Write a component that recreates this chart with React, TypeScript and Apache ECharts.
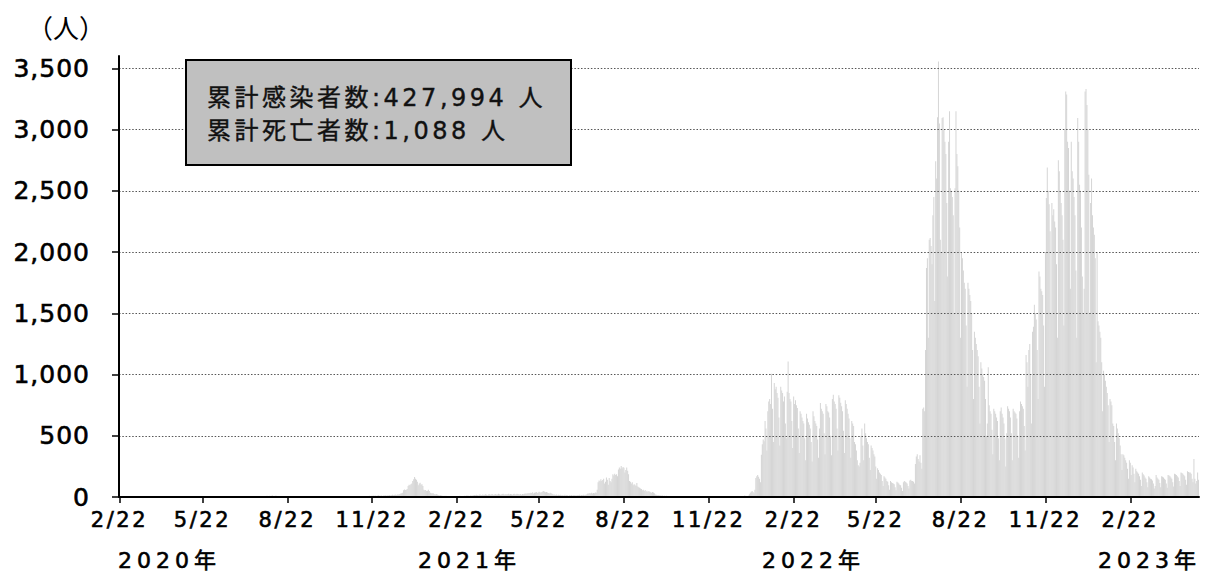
import React, { useEffect, useRef } from "react";
import * as echarts from "echarts";

// daily new cases, one array per month, first day = 2020-02-22
const feb2020 = [0, 0, 0, 0, 0, 0, 0, 0];
const mar2020 = [0, 0, 1, 0, 0, 0, 0, 1, 0, 0, 0, 1, 0, 0, 0, 0, 0, 0, 0, 1, 0, 0, 0, 0, 1, 2, 0, 1, 3, 2, 1];
const apr2020 = [2, 3, 1, 4, 2, 3, 5, 2, 4, 3, 6, 2, 3, 5, 4, 2, 3, 1, 2, 1, 0, 2, 1, 0, 1, 0, 0, 1, 0, 0];
const may2020 = [0, 0, 1, 0, 0, 0, 0, 0, 0, 0, 0, 0, 0, 0, 0, 0, 0, 0, 0, 0, 0, 0, 0, 0, 0, 0, 0, 0, 0, 0, 0];
const jun2020 = [0, 0, 0, 0, 0, 0, 0, 0, 0, 0, 0, 0, 0, 0, 0, 0, 0, 0, 0, 0, 0, 0, 0, 0, 1, 0, 0, 0, 0, 0];
const jul2020 = [0, 0, 0, 0, 0, 0, 0, 0, 0, 0, 0, 0, 1, 0, 1, 0, 2, 1, 3, 2, 4, 3, 5, 6, 4, 7, 8, 6, 9, 7, 10];
const aug2020 = [8, 9, 11, 7, 10, 12, 9, 8, 11, 10, 7, 9, 8, 6, 7, 5, 8, 6, 5, 4, 6, 5, 3, 4, 5, 3, 2, 4, 3, 2, 3];
const sep2020 = [2, 3, 1, 2, 3, 2, 1, 2, 1, 3, 2, 1, 2, 1, 0, 1, 2, 1, 0, 1, 1, 0, 1, 2, 1, 0, 1, 1, 0, 1];
const oct2020 = [1, 0, 1, 2, 1, 0, 1, 2, 3, 1, 2, 1, 0, 2, 1, 3, 2, 1, 2, 3, 2, 1, 2, 3, 2, 4, 3, 2, 3, 4, 3];
const nov2020 = [3, 4, 2, 3, 5, 4, 3, 5, 6, 4, 5, 7, 6, 5, 8, 7, 6, 9, 10, 8, 11, 9, 12, 10, 11, 13, 9, 12, 14, 11];
const dec2020 = [10, 12, 9, 13, 11, 14, 12, 10, 15, 13, 16, 12, 14, 18, 15, 17, 20, 16, 19, 22, 18, 25, 28, 30, 35, 55, 62, 58, 60, 65, 90];
const jan2021 = [100, 95, 105, 110, 130, 145, 163, 150, 140, 125, 95, 110, 117, 100, 105, 90, 60, 55, 58, 50, 52, 60, 48, 35, 30, 28, 32, 25, 22, 20, 24];
const feb2021 = [18, 15, 13, 14, 12, 10, 9, 11, 8, 10, 7, 9, 8, 6, 9, 7, 8, 6, 7, 9, 8, 6, 7, 8, 10, 9, 7, 8];
const mar2021 = [9, 11, 8, 12, 10, 13, 9, 11, 14, 10, 12, 15, 17, 14, 19, 16, 13, 18, 20, 15, 17, 21, 16, 19, 22, 18, 15, 20, 23, 19, 21];
const apr2021 = [24, 20, 17, 22, 25, 19, 21, 26, 23, 18, 20, 24, 27, 22, 19, 25, 21, 23, 26, 20, 24, 22, 18, 25, 27, 21, 23, 26, 24, 22];
const may2021 = [20, 24, 19, 25, 22, 27, 29, 26, 31, 28, 33, 30, 35, 32, 38, 29, 34, 37, 40, 33, 36, 42, 39, 35, 41, 44, 49, 43, 38, 40, 36];
const jun2021 = [32, 28, 34, 30, 26, 22, 18, 21, 17, 20, 15, 18, 16, 19, 14, 17, 13, 15, 18, 12, 16, 14, 11, 15, 13, 17, 12, 14, 16, 13];
const jul2021 = [15, 12, 16, 14, 18, 13, 17, 15, 19, 14, 18, 16, 25, 30, 27, 33, 29, 35, 28, 32, 31, 36, 34, 60, 120, 135, 128, 145, 130, 138, 150];
const aug2021 = [110, 125, 160, 140, 100, 155, 130, 120, 150, 185, 175, 190, 180, 185, 170, 225, 240, 230, 253, 235, 245, 238, 200, 220, 240, 215, 185, 130, 125, 110, 120];
const sep2021 = [95, 105, 100, 90, 115, 85, 80, 75, 70, 65, 55, 60, 50, 58, 45, 52, 40, 48, 42, 38, 35, 40, 36, 30, 20, 18, 15, 17, 14, 12];
const oct2021 = [13, 10, 12, 9, 11, 8, 10, 7, 6, 8, 5, 6, 4, 5, 3, 4, 3, 2, 3, 2, 1, 2, 1, 2, 1, 1, 0, 1, 1, 0, 1];
const nov2021 = [0, 1, 0, 0, 1, 0, 0, 0, 1, 0, 0, 0, 0, 1, 0, 0, 0, 0, 1, 0, 0, 0, 0, 0, 1, 0, 0, 0, 0, 1];
const dec2021 = [0, 0, 0, 0, 1, 0, 0, 0, 0, 1, 0, 0, 1, 0, 0, 1, 0, 1, 0, 2, 1, 0, 2, 1, 3, 2, 4, 3, 6, 8, 12];
const jan2022 = [6, 4, 3, 10, 22, 35, 42, 48, 40, 30, 60, 155, 170, 180, 165, 150, 120, 345, 430, 470, 455, 620, 560, 380, 700, 780, 800, 760, 1006, 720, 450];
const feb2022 = [930, 880, 900, 850, 810, 650, 420, 900, 870, 850, 780, 820, 600, 480, 860, 1107, 850, 800, 780, 620, 400, 820, 760, 790, 750, 726, 560, 360];
const mar2022 = [700, 680, 650, 620, 600, 480, 300, 680, 640, 610, 590, 560, 450, 290, 700, 660, 620, 600, 580, 470, 320, 560, 767, 720, 700, 680, 520, 350, 760, 740, 700];
const apr2022 = [690, 650, 500, 340, 800, 835, 780, 760, 720, 560, 380, 830, 810, 770, 740, 700, 540, 360, 790, 760, 720, 680, 640, 480, 320, 620, 600, 580, 450, 430];
const may2022 = [380, 300, 260, 250, 280, 500, 560, 420, 300, 600, 520, 480, 450, 430, 320, 220, 420, 400, 380, 350, 330, 250, 150, 235, 220, 200, 190, 180, 130, 90, 170];
const jun2022 = [160, 150, 130, 125, 95, 60, 130, 120, 115, 110, 105, 80, 55, 125, 118, 110, 100, 95, 75, 50, 120, 130, 125, 118, 110, 90, 70, 135, 140, 130];
const jul2022 = [130, 125, 110, 270, 330, 350, 310, 290, 340, 280, 230, 720, 730, 700, 1200, 1870, 1950, 1300, 2100, 2115, 2050, 1900, 2300, 2450, 1600, 2740, 2600, 3100, 3556, 3050, 2100];
const aug2022 = [2000, 3094, 3100, 3000, 2900, 2800, 2400, 1800, 2900, 3150, 2520, 2500, 2450, 2300, 1500, 2520, 3150, 2800, 2700, 2500, 2200, 1300, 2000, 1950, 1850, 1750, 1700, 1400, 900, 1750, 1700];
const sep2022 = [1650, 1600, 1500, 1200, 800, 1350, 1300, 1250, 1200, 1150, 900, 600, 1100, 1050, 1000, 980, 950, 800, 500, 600, 1060, 750, 700, 680, 550, 350, 720, 700, 680, 650];
const oct2022 = [620, 480, 300, 700, 730, 680, 650, 600, 480, 250, 520, 740, 720, 700, 650, 520, 300, 720, 700, 690, 680, 640, 500, 320, 700, 780, 760, 740, 720, 580, 380];
const nov2022 = [1160, 1100, 900, 1200, 1250, 1000, 600, 1350, 1390, 1570, 1500, 1450, 1200, 800, 1840, 1800, 1700, 1680, 1650, 1400, 900, 2000, 2440, 2690, 2500, 2390, 2170, 1500, 2400, 2300];
const dec2022 = [2350, 2250, 2200, 1900, 1300, 2750, 2660, 2500, 2400, 2300, 2100, 1400, 3000, 3310, 3285, 2900, 2850, 2500, 1700, 2900, 2660, 2600, 2450, 2300, 1850, 1300, 3094, 2900, 2550, 2500, 2200];
const jan2023 = [1800, 1500, 1700, 3310, 3330, 3200, 3000, 2630, 1500, 2400, 2600, 2300, 2200, 2140, 1950, 1100, 2000, 1435, 1400, 1350, 1300, 1100, 700, 1030, 1000, 950, 900, 850, 750, 450, 800];
const feb2023 = [780, 750, 600, 580, 450, 300, 600, 560, 520, 480, 420, 350, 220, 350, 340, 320, 300, 280, 230, 150, 300, 280, 180, 260, 240, 190, 120, 230];
const mar2023 = [210, 200, 190, 170, 140, 90, 200, 185, 175, 160, 150, 120, 80, 170, 160, 150, 145, 135, 110, 70, 90, 180, 160, 150, 140, 115, 80, 170, 165, 160, 150];
const apr2023 = [140, 110, 75, 180, 175, 170, 160, 150, 120, 85, 190, 185, 180, 170, 160, 130, 90, 200, 195, 190, 180, 170, 140, 100, 210, 205, 200, 200, 190, 150];
const may2023 = [120, 310, 150, 110, 130, 200, 140];

const months = [
  feb2020, mar2020, apr2020, may2020, jun2020, jul2020, aug2020, sep2020, oct2020, nov2020, dec2020,
  jan2021, feb2021, mar2021, apr2021, may2021, jun2021, jul2021, aug2021, sep2021, oct2021, nov2021, dec2021,
  jan2022, feb2022, mar2022, apr2022, may2022, jun2022, jul2022, aug2022, sep2022, oct2022, nov2022, dec2022,
  jan2023, feb2023, mar2023, apr2023, may2023,
];
const cases: number[] = ([] as number[]).concat(...months);

const yTicks = [0, 500, 1000, 1500, 2000, 2500, 3000, 3500];
const tickMonths = [2, 5, 8, 11];
const tickDay = 22;
const yearLabels = ["2020年", "2021年", "2022年", "2023年"];
const boxLines = ["累計感染者数:427,994 人", "累計死亡者数:1,088 人"];
const unitLabel = "（人）";

function buildDates(n: number): string[] {
  const out: string[] = [];
  const d = new Date(Date.UTC(2020, 1, 22));
  for (let i = 0; i < n; i++) {
    out.push(`${d.getUTCFullYear()}-${d.getUTCMonth() + 1}-${d.getUTCDate()}`);
    d.setUTCDate(d.getUTCDate() + 1);
  }
  return out;
}
const dates = buildDates(cases.length);

const isTick = (_i: number, v: string) => {
  const p = String(v).split("-").map(Number);
  return p[2] === tickDay && tickMonths.indexOf(p[1]) >= 0;
};

const css = `
#c text[style*="25px"]{letter-spacing:1px}
#c text[style*="21px"]{letter-spacing:2.6px}
#c text[style*="22px"]{letter-spacing:5px}
#c text[style*="24px"]{letter-spacing:3.5px}
`;

const FONT = "DejaVu Sans, Noto Sans CJK JP, sans-serif";
const yearX = [118, 418, 762, 1098];
const heavy = { textBorderColor: "#000", textBorderWidth: 0.6 };

export default function App() {
  const ref = useRef<HTMLDivElement>(null);
  useEffect(() => {
    if (!ref.current) return;
    const chart = echarts.init(ref.current, null, { renderer: "svg" });
    const graphics: any[] = [
      {
        type: "text",
        z: 100,
        style: { text: unitLabel, x: 66, y: 26, align: "center", verticalAlign: "middle", fontSize: 26, fontFamily: "Noto Sans CJK JP", fill: "#000" },
      },
      {
        type: "rect",
        z: 100,
        shape: { x: 186, y: 60, width: 385, height: 105 },
        style: { fill: "#c0c0c0", stroke: "#000", lineWidth: 2 },
      },
      ...boxLines.map((t, i) => ({
        type: "text",
        z: 101,
        style: { text: t, x: 207, y: 97.5 + i * 33.5, verticalAlign: "middle", fontSize: 24, fontFamily: FONT, fill: "#111", stroke: "#111", lineWidth: 0.4 },
      })),
      ...yearLabels.map((t, i) => ({
        type: "text",
        z: 100,
        style: { text: t, x: yearX[i], y: 560, verticalAlign: "middle", fontSize: 22, fontFamily: FONT, fill: "#000", stroke: "#000", lineWidth: 0.6 },
      })),
    ];
    chart.setOption({
      animation: false,
      backgroundColor: "#fff",
      textStyle: { fontFamily: FONT },
      grid: { left: 119, right: 7, top: 56, bottom: 78, containLabel: false },
      xAxis: {
        type: "category",
        data: dates,
        z: 5,
        boundaryGap: true,
        axisLine: { show: true, lineStyle: { color: "#000", width: 2 } },
        axisTick: { show: true, alignWithLabel: true, interval: isTick, length: 6, lineStyle: { color: "#000", width: 1.5 } },
        axisLabel: {
          interval: isTick,
          margin: 12,
          fontSize: 21,
          fontFamily: "DejaVu Sans",
          color: "#000",
          ...heavy,
          formatter: (v: string) => {
            const p = v.split("-");
            return `${p[1]}/${p[2]}`;
          },
        },
        splitLine: { show: false },
      },
      yAxis: {
        type: "value",
        min: 0,
        max: 3600,
        interval: 500,
        z: 5,
        axisLine: { show: true, lineStyle: { color: "#000", width: 2 } },
        axisTick: { show: true, length: 7, customValues: yTicks, lineStyle: { color: "#000", width: 1.5 } },
        axisLabel: {
          margin: 29,
          fontSize: 25,
          fontFamily: "DejaVu Sans",
          color: "#000",
          ...heavy,
          customValues: yTicks,
          formatter: (v: number) => v.toLocaleString("en-US"),
        },
        splitLine: { show: true, lineStyle: { color: "#555", width: 1.2, type: [1.5, 1.8] } },
      },
      series: [
        {
          type: "bar",
          data: cases,
          barCategoryGap: "0%",
          itemStyle: { color: "#d5d5d5" },
          z: 2,
        },
      ],
      graphic: graphics,
    });
    return () => chart.dispose();
  }, []);
  return (
    <>
      <style>{css}</style>
      <div id="c" ref={ref} style={{ position: "fixed", left: 0, top: 0, width: 1206, height: 575, background: "#fff" }} />
    </>
  );
}
